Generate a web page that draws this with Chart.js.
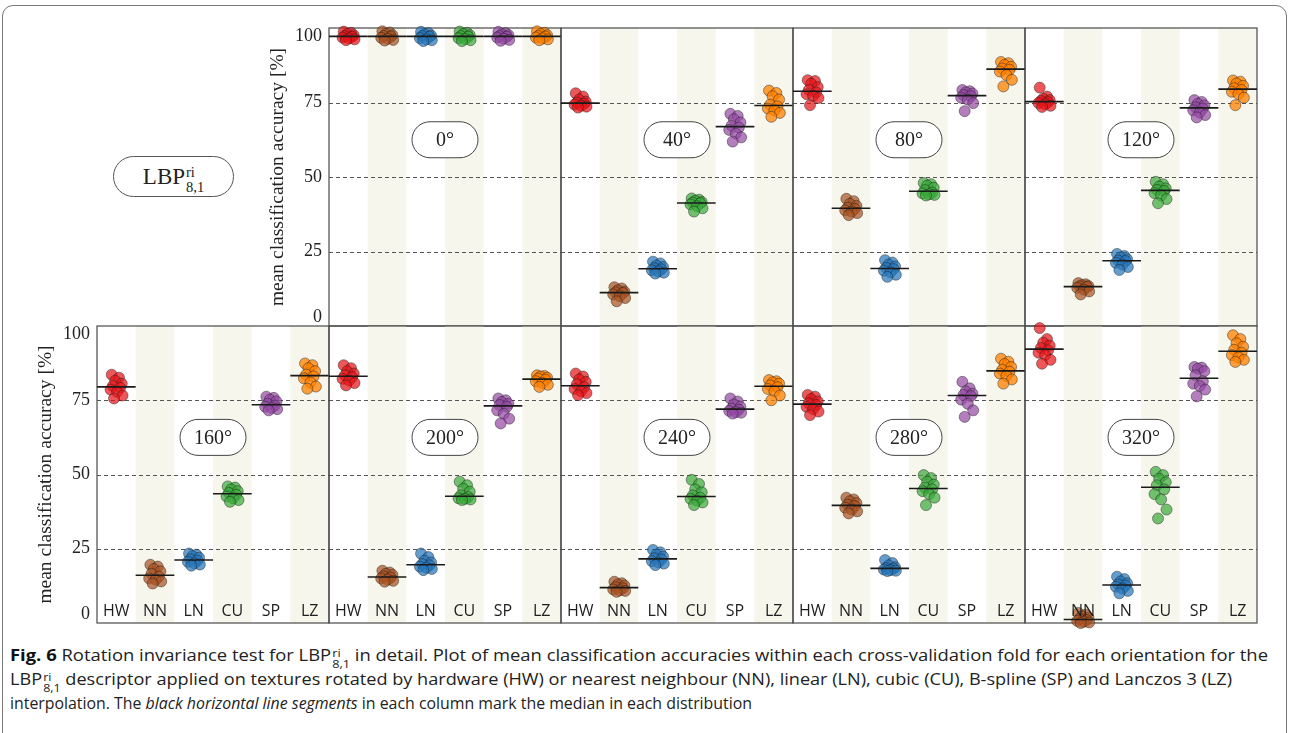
<!DOCTYPE html>
<html>
<head>
<meta charset="utf-8">
<script src="https://cdn.jsdelivr.net/npm/chart.js@4.4.1/dist/chart.umd.min.js"></script>
<style>
  html, body { margin: 0; padding: 0; background: #fff; }
  body { width: 1289px; height: 733px; position: relative; overflow: hidden; font-family: "Open Sans", sans-serif; }
  #frame { position: absolute; left: 2px; top: 5px; width: 1285px; height: 800px; border: 1px solid #777; border-radius: 11px; box-sizing: border-box; }
  canvas { position: absolute; }
  #lbp { position: absolute; left: 113px; top: 156px; width: 121px; height: 41px; box-sizing: border-box;
         border: 1px solid #555; border-radius: 21px; background: #fff;
         display: flex; align-items: center; justify-content: center;
         font-family: "Liberation Serif", "DejaVu Serif", serif; font-size: 23px; color: #222; }
  .ss { display: inline-flex; flex-direction: column; vertical-align: middle; line-height: 1; margin-left: 1px; }
  #lbp .ss { font-size: 14.5px; margin-top: 6px; }
  #caption { position: absolute; left: 10px; top: 643px; font-size: 16px; line-height: 24px; color: #222; }
  .cl { display: block; height: 24px; width: max-content; white-space: nowrap; transform-origin: 0 50%; }
  .cl .ss { font-size: 11px; margin-top: 2px; }
  b { color: #111; }
</style>
</head>
<body>
<div id="frame"></div>
<div id="lbp"><span>LBP</span><span class="ss"><span>ri</span><span>8,1</span></span></div>
<div id="caption">
  <span class="cl" data-w="1258"><b>Fig. 6</b> Rotation invariance test for LBP<span class="ss"><span>ri</span><span>8,1</span></span> in detail. Plot of mean classification accuracies within each cross-validation fold for each orientation for the</span>
  <span class="cl" data-w="1222">LBP<span class="ss"><span>ri</span><span>8,1</span></span> descriptor applied on textures rotated by hardware (HW) or nearest neighbour (NN), linear (LN), cubic (CU), B-spline (SP) and Lanczos 3 (LZ)</span>
  <span class="cl" data-w="742">interpolation. The <i>black horizontal line segments</i> in each column mark the median in each distribution</span>
</div>
<script>
// Interpolation methods, one column each
const CATEGORIES = ['HW', 'NN', 'LN', 'CU', 'SP', 'LZ'];
// Rotation angles, one panel each
const ANGLES = ['0°', '40°', '80°', '120°', '160°', '200°', '240°', '280°', '320°'];
const Y_TICKS = [0, 25, 50, 75, 100];
const Y_TITLE = 'mean classification accuracy [%]';

// Mean classification accuracy per cross-validation fold [%], per method
const ACC_0 = [
  [98.8, 98.4, 98.0, 97.6, 97.3, 97.1, 96.8, 96.5, 96.2, 95.9],
  [98.9, 98.5, 98.0, 97.6, 97.3, 97.1, 96.7, 96.4, 96.0, 95.8],
  [98.7, 98.3, 97.9, 97.5, 97.3, 97.1, 96.6, 96.2, 95.9, 95.6],
  [98.8, 98.4, 98.0, 97.6, 97.3, 97.1, 96.6, 96.3, 95.9, 95.6],
  [98.7, 98.3, 97.9, 97.6, 97.3, 97.1, 96.8, 96.4, 96.0, 95.7],
  [98.9, 98.4, 98.0, 97.6, 97.3, 97.1, 96.8, 96.5, 96.2, 95.9]
];
const ACC_40 = [
  [78.1, 77.0, 76.0, 75.3, 75.0, 74.6, 74.3, 73.9, 73.6, 73.3],
  [13.0, 12.6, 12.0, 11.5, 11.3, 11.1, 10.6, 10.0, 9.4, 8.3],
  [21.6, 21.0, 20.3, 19.8, 19.4, 19.0, 18.7, 18.3, 17.9, 17.6],
  [42.8, 42.4, 42.0, 41.6, 41.4, 41.2, 40.8, 40.2, 39.5, 38.4],
  [71.2, 70.5, 69.4, 68.3, 67.2, 66.6, 65.8, 64.6, 63.3, 61.9],
  [79.0, 78.2, 77.1, 76.0, 74.3, 73.7, 73.0, 72.4, 71.5, 70.2]
];
const ACC_80 = [
  [82.5, 82.2, 81.3, 80.2, 79.2, 78.4, 77.8, 77.2, 76.5, 74.1],
  [42.7, 41.9, 41.0, 40.3, 39.7, 39.3, 38.8, 38.4, 37.9, 37.2],
  [22.1, 21.3, 20.6, 20.0, 19.5, 19.1, 18.6, 18.0, 17.2, 16.5],
  [48.0, 47.6, 47.1, 46.4, 45.6, 44.8, 44.5, 44.2, 44.0, 43.8],
  [79.2, 78.8, 78.4, 78.0, 77.5, 77.1, 76.6, 76.0, 74.8, 72.1],
  [88.6, 88.2, 87.6, 87.0, 86.4, 86.0, 85.4, 84.2, 82.6, 80.4]
];
const ACC_120 = [
  [80.0, 77.0, 76.3, 75.8, 75.5, 75.1, 74.8, 74.4, 73.9, 73.5],
  [14.4, 14.0, 13.7, 13.4, 13.3, 13.1, 12.8, 12.2, 11.6, 10.6],
  [24.2, 23.5, 23.0, 22.4, 22.0, 21.8, 21.2, 20.6, 19.8, 18.8],
  [48.4, 47.6, 46.8, 46.2, 45.7, 45.3, 44.6, 43.8, 42.6, 41.2],
  [75.8, 75.2, 74.6, 74.0, 73.4, 73.0, 72.4, 71.6, 70.8, 70.0],
  [82.4, 82.0, 81.4, 80.6, 79.8, 79.2, 78.6, 77.8, 76.6, 74.1]
];
const ACC_160 = [
  [83.6, 82.6, 81.6, 80.6, 79.8, 79.2, 78.6, 77.8, 76.6, 75.6],
  [19.6, 19.0, 18.2, 17.4, 16.6, 15.6, 15.0, 14.6, 14.0, 13.3],
  [23.4, 23.0, 22.5, 22.0, 21.4, 21.0, 20.6, 20.1, 19.7, 19.3],
  [46.0, 45.6, 45.0, 44.4, 43.8, 43.2, 42.6, 42.0, 41.4, 40.8],
  [76.2, 75.8, 75.2, 74.6, 73.8, 73.2, 72.8, 72.4, 72.0, 71.6],
  [87.4, 86.8, 85.8, 84.8, 83.6, 83.0, 82.4, 81.0, 79.6, 78.9]
];
const ACC_200 = [
  [86.8, 85.8, 84.8, 84.0, 83.4, 82.8, 82.2, 81.6, 80.8, 80.0],
  [17.6, 17.0, 16.6, 16.2, 15.7, 15.3, 15.0, 14.6, 14.2, 13.9],
  [23.4, 22.2, 21.0, 20.4, 19.8, 19.4, 19.0, 18.6, 18.2, 17.8],
  [47.6, 46.4, 45.2, 44.2, 43.0, 42.4, 42.0, 41.8, 41.6, 41.4],
  [75.6, 75.0, 74.4, 73.8, 73.4, 72.8, 71.6, 70.4, 68.8, 67.2],
  [83.4, 83.2, 83.0, 82.6, 82.3, 81.9, 81.4, 80.8, 80.2, 79.5]
];
const ACC_240 = [
  [84.0, 83.0, 82.0, 81.2, 80.4, 79.4, 78.8, 78.0, 77.4, 76.7],
  [13.9, 13.4, 13.0, 12.6, 12.1, 11.7, 11.3, 11.0, 10.8, 10.5],
  [24.6, 23.8, 23.0, 22.4, 21.8, 21.4, 20.8, 20.4, 20.0, 19.5],
  [48.2, 46.8, 45.0, 44.0, 43.0, 42.2, 41.8, 41.2, 40.6, 39.7],
  [75.6, 74.6, 73.6, 72.8, 72.2, 71.8, 71.4, 71.0, 70.8, 70.5],
  [81.8, 81.4, 81.0, 80.6, 80.0, 79.4, 78.8, 78.0, 76.6, 75.0]
];
const ACC_280 = [
  [76.8, 76.2, 75.4, 74.6, 74.0, 73.4, 72.8, 72.0, 71.2, 70.0],
  [42.2, 41.6, 41.0, 40.4, 39.8, 39.4, 38.8, 38.2, 37.6, 36.9],
  [21.2, 20.2, 19.4, 18.8, 18.5, 18.3, 18.0, 17.8, 17.6, 17.5],
  [49.8, 48.8, 47.6, 46.6, 45.6, 45.0, 44.4, 43.4, 42.2, 39.7],
  [81.2, 79.0, 78.0, 77.2, 76.8, 76.4, 75.2, 73.8, 71.6, 69.4],
  [89.0, 88.0, 87.2, 86.2, 85.2, 84.6, 84.0, 83.2, 82.0, 80.6]
];
const ACC_320 = [
  [99.3, 95.6, 94.4, 93.4, 92.6, 91.8, 91.0, 90.2, 88.6, 87.3],
  [3.4, 2.8, 2.2, 1.8, 1.4, 1.0, 0.7, 0.4, 0.2, 0.0],
  [15.6, 14.8, 14.0, 13.4, 13.0, 12.6, 12.2, 11.6, 10.8, 10.0],
  [50.9, 49.8, 48.6, 47.4, 46.4, 45.0, 43.4, 41.6, 38.2, 35.2],
  [86.2, 86.0, 85.6, 84.8, 83.4, 81.4, 80.6, 79.8, 78.6, 76.3],
  [96.9, 95.6, 94.2, 93.0, 92.0, 91.0, 90.2, 89.4, 88.6, 87.9]
];
const ACC_BY_ANGLE = [ACC_0, ACC_40, ACC_80, ACC_120, ACC_160, ACC_200, ACC_240, ACC_280, ACC_320];

// ---- styling / layout ----
const COLORS = ['rgba(232,22,26,0.72)', 'rgba(170,84,36,0.72)', 'rgba(40,120,190,0.72)',
                'rgba(60,170,60,0.72)', 'rgba(150,75,165,0.72)', 'rgba(255,128,0,0.75)'];
const EDGE = 'rgba(25,25,25,0.55)';
const BAND = '#f6f6ec';
const SERIF = '"Liberation Serif", "DejaVu Serif", serif';
// horizontal strip offsets (fraction of a column) so overlapping folds stay visible
const STRIP = [-0.12, 0.07, -0.03, 0.14, -0.09, 0.10, -0.15, 0.02, 0.16, -0.06];
const PANEL_W = 232, PAD = 14;
const TOP_ROW = { top: 28, bottom: 326 };
const BOTTOM_ROW = { top: 326, bottom: 623 };
const LAYOUT = [
  { left: 329,  row: TOP_ROW,    yAxis: true,  xLabels: false },
  { left: 561,  row: TOP_ROW,    yAxis: false, xLabels: false },
  { left: 793,  row: TOP_ROW,    yAxis: false, xLabels: false },
  { left: 1025, row: TOP_ROW,    yAxis: false, xLabels: false },
  { left: 97,   row: BOTTOM_ROW, yAxis: true,  xLabels: true },
  { left: 329,  row: BOTTOM_ROW, yAxis: false, xLabels: true },
  { left: 561,  row: BOTTOM_ROW, yAxis: false, xLabels: true },
  { left: 793,  row: BOTTOM_ROW, yAxis: false, xLabels: true },
  { left: 1025, row: BOTTOM_ROW, yAxis: false, xLabels: true }
];

function median(a) {
  const s = [...a].sort((p, q) => p - q), m = s.length >> 1;
  return s.length % 2 ? s[m] : (s[m - 1] + s[m]) / 2;
}

function roundRect(ctx, x, y, w, h, r) {
  ctx.beginPath();
  ctx.moveTo(x + r, y);
  ctx.lineTo(x + w - r, y);
  ctx.arc(x + w - r, y + r, r, -Math.PI / 2, Math.PI / 2);
  ctx.lineTo(x + r, y + h);
  ctx.arc(x + r, y + r, r, Math.PI / 2, Math.PI * 1.5);
  ctx.closePath();
}

// Column shading, dashed gridlines, frame, angle tag and axis texts of one panel
const panelDecor = {
  id: 'panelDecor',
  beforeDatasetsDraw(chart, args, o) {
    const { ctx, chartArea: a, scales: { x, y } } = chart;
    ctx.save();
    ctx.fillStyle = BAND;
    for (let c = 1; c < CATEGORIES.length; c += 2) {
      const l = x.getPixelForValue(c - 0.5), r = x.getPixelForValue(c + 0.5);
      ctx.fillRect(l, a.top, r - l, a.bottom - a.top);
    }
    ctx.strokeStyle = '#555';
    ctx.lineWidth = 1;
    ctx.setLineDash([4, 3]);
    Y_TICKS.slice(1, -1).forEach(v => {
      const py = Math.round(y.getPixelForValue(v)) + 0.5;
      ctx.beginPath(); ctx.moveTo(a.left, py); ctx.lineTo(a.right, py); ctx.stroke();
    });
    ctx.setLineDash([]);
    ctx.strokeStyle = '#4a4a4a';
    ctx.lineWidth = 1.2;
    ctx.strokeRect(a.left, a.top, a.right - a.left, a.bottom - a.top);
    ctx.restore();
  },
  afterDatasetsDraw(chart, args, o) {
    const { ctx, chartArea: a, scales: { x, y } } = chart;
    ctx.save();
    // angle tag
    const cx = (a.left + a.right) / 2, cy = y.getPixelForValue(62.5);
    roundRect(ctx, cx - 33, cy - 18, 66, 36, 18);
    ctx.fillStyle = '#fff'; ctx.fill();
    ctx.strokeStyle = '#444'; ctx.lineWidth = 1; ctx.stroke();
    ctx.fillStyle = '#222';
    ctx.font = '20px ' + SERIF;
    ctx.textAlign = 'center'; ctx.textBaseline = 'middle';
    ctx.fillText(o.angle, cx, cy + 1);
    // method names inside the bottom of the panel
    if (o.xLabels) {
      ctx.font = '16px "Open Sans", sans-serif';
      ctx.fillStyle = '#1e1e1e';
      CATEGORIES.forEach((c, i) => ctx.fillText(c, x.getPixelForValue(i), a.bottom - 12));
    }
    // y axis ticks and title
    if (o.yAxis) {
      ctx.fillStyle = '#222';
      ctx.font = '18px ' + SERIF;
      ctx.textAlign = 'right';
      Y_TICKS.forEach(v => {
        let py = y.getPixelForValue(v);
        if (v === Y_TICKS[Y_TICKS.length - 1]) py += 8.5;
        if (v === Y_TICKS[0]) py -= 8.5;
        ctx.fillText(String(v), a.left - 7, py);
      });
      ctx.translate(a.left - 51, (a.top + a.bottom) / 2);
      ctx.rotate(-Math.PI / 2);
      ctx.textAlign = 'center';
      ctx.font = '19.5px ' + SERIF;
      ctx.fillText(Y_TITLE, 0, 0);
    }
    ctx.restore();
  }
};

LAYOUT.forEach((p, k) => {
  const values = ACC_BY_ANGLE[k];
  const padL = p.yAxis ? p.left : PAD;
  const h = p.row.bottom - p.row.top;
  const cv = document.createElement('canvas');
  cv.width = padL + PANEL_W + PAD;
  cv.height = h + 2 * PAD;
  cv.style.left = (p.left - padL) + 'px';
  cv.style.top = (p.row.top - PAD) + 'px';
  document.body.appendChild(cv);

  const datasets = [];
  values.forEach((vals, c) => {
    datasets.push({
      type: 'scatter',
      data: vals.map((v, i) => ({ x: c + STRIP[i % STRIP.length], y: v })),
      backgroundColor: COLORS[c], borderColor: EDGE, borderWidth: 0.8,
      pointRadius: 5.5, pointHoverRadius: 5.5, order: 2, clip: false
    });
  });
  values.forEach((vals, c) => {
    const m = median(vals);
    datasets.push({
      type: 'line',
      data: [{ x: c - 0.5, y: m }, { x: c + 0.5, y: m }],
      borderColor: '#1a1a1a', borderWidth: 1.6, pointRadius: 0, fill: false,
      order: 1, clip: false
    });
  });

  new Chart(cv, {
    type: 'scatter',
    data: { datasets },
    options: {
      responsive: false, animation: false, devicePixelRatio: 1, events: [],
      layout: { padding: { left: padL, right: PAD, top: PAD, bottom: PAD } },
      scales: {
        x: { type: 'linear', min: -0.5, max: CATEGORIES.length - 0.5, display: false },
        y: { type: 'linear', min: Y_TICKS[0], max: Y_TICKS[Y_TICKS.length - 1], display: false }
      },
      plugins: {
        legend: { display: false }, tooltip: { enabled: false },
        panelDecor: { angle: ANGLES[k], yAxis: p.yAxis, xLabels: p.xLabels }
      }
    },
    plugins: [panelDecor]
  });
});

// stretch each caption line to its column width
document.querySelectorAll('.cl').forEach(el => {
  const w = el.getBoundingClientRect().width;
  el.style.transform = 'scaleX(' + (Number(el.dataset.w) / w) + ')';
});
</script>
</body>
</html>
